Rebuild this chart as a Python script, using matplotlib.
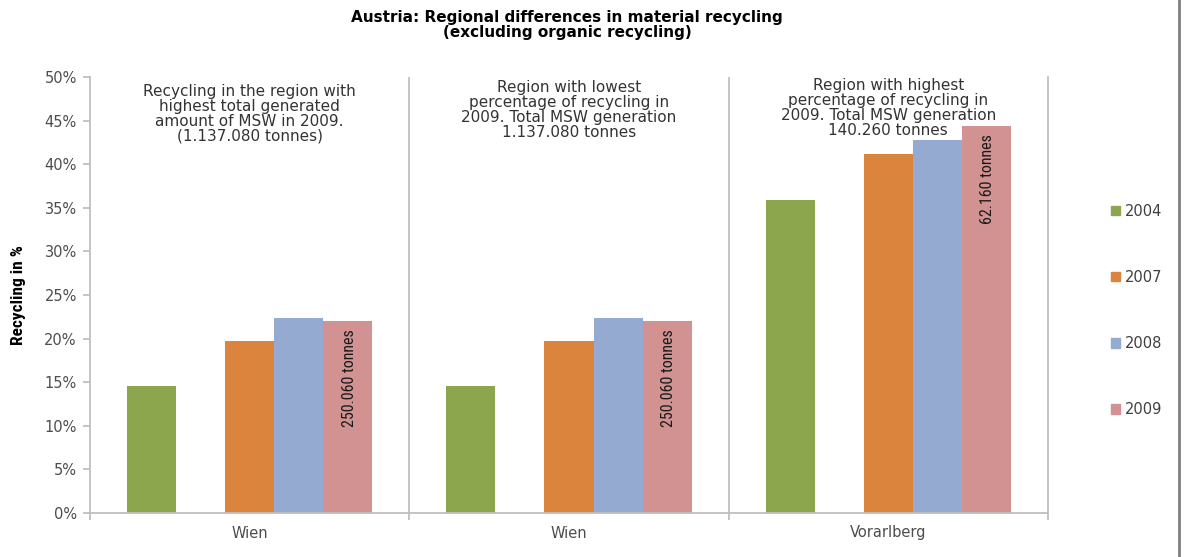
import matplotlib
matplotlib.use("Agg")
import matplotlib.pyplot as plt
from matplotlib.patches import Patch
from matplotlib.lines import Line2D
from matplotlib import font_manager

# Data
regions = ["Wien", "Wien", "Vorarlberg"]
years = ["2004", "2007", "2008", "2009"]
v2004 = [14.6, 14.6, 35.9]
v2007 = [19.7, 19.7, 41.2]
v2008 = [22.4, 22.4, 42.8]
v2009 = [22.0, 22.0, 44.4]
tonnes_2009 = ["250.060 tonnes", "250.060 tonnes", "62.160 tonnes"]
notes = [
    "Recycling in the region with\nhighest total generated\namount of MSW in 2009.\n(1.137.080 tonnes)",
    "Region with lowest\npercentage of recycling in\n2009. Total MSW generation\n1.137.080 tonnes",
    "Region with highest\npercentage of recycling in\n2009. Total MSW generation\n140.260 tonnes",
]
yticks = [0, 5, 10, 15, 20, 25, 30, 35, 40, 45, 50]

colors = ["#8BA64D", "#DB843D", "#94AAD0", "#D29292"]
series = [v2004, v2007, v2008, v2009]
# clustered layout with five slots per category; the second slot stays empty
slots = [0, 2, 3, 4]
n_slots = 5
bar_w = 1.0 / (n_slots + 1.5)
note_tops = [49.15, 49.6, 49.85]

# pick a narrow face for the rotated labels if one is available
installed = {f.name for f in font_manager.fontManager.ttflist}
narrow = [f for f in ["Liberation Sans Narrow", "DejaVu Sans Condensed",
                      "Roboto Condensed", "Open Sans Condensed"] if f in installed]
narrow_family = narrow + ["DejaVu Sans"]
narrow_scale = 1.0 if narrow else 0.86

W, H = 1189, 557
fig = plt.figure(figsize=(W / 100, H / 100), dpi=100)
ax = fig.add_axes([90 / W, (H - 513) / H, (1048 - 90) / W, (513 - 77) / H])

x = list(range(len(regions)))
for vals, slot, col, yr in zip(series, slots, colors, years):
    pos = [xi + (slot - (n_slots - 1) / 2) * bar_w for xi in x]
    bars = ax.bar(pos, vals, width=bar_w, color=col, label=yr, zorder=2)
    if yr == "2009":
        for b, v, lab in zip(bars, vals, tonnes_2009):
            ax.annotate(lab, xy=(b.get_x() + b.get_width() / 2, v),
                        xytext=(1, -6), textcoords="offset points",
                        rotation=90, ha="center", va="top",
                        fontsize=11.5 * narrow_scale, family=narrow_family,
                        color="#1a1a1a", zorder=3)

ax.set_xlim(-0.5, len(regions) - 0.5)
ax.set_ylim(0, 50)
ax.set_yticks(yticks)
ax.set_yticklabels([f"{t}%" for t in yticks])
ax.set_xticks(x)
ax.set_xticklabels(regions)
ax.set_xticks([i - 0.5 for i in range(len(regions) + 1)], minor=True)

grey = "#BFBFBF"
ax.spines["top"].set_visible(False)
for s in ["left", "bottom", "right"]:
    ax.spines[s].set_color(grey)
    ax.spines[s].set_linewidth(1.3)
for xb in [i + 0.5 for i in range(len(regions) - 1)]:
    ax.axvline(xb, color=grey, lw=1.3, zorder=1)

ax.tick_params(axis="y", length=5, width=1.3, color=grey, labelsize=10.5,
               labelcolor="#4d4d4d", pad=4.5)
ax.tick_params(axis="x", which="major", length=0, labelsize=10.5,
               labelcolor="#4d4d4d", pad=9)
ax.tick_params(axis="x", which="minor", length=5, width=1.3, color=grey)

for xi, top, txt in zip(x, note_tops, notes):
    ax.text(xi, top, txt, ha="center", va="top", fontsize=11,
            color="#333333", linespacing=0.98, zorder=4)

ax.set_ylabel("Recycling in %", fontsize=12.5 * narrow_scale, fontweight="bold",
              family=narrow_family, labelpad=13)

fig.suptitle("Austria: Regional differences in material recycling\n(excluding organic recycling)",
             x=567 / W, y=1 - 10 / H, va="top", fontsize=11, fontweight="bold",
             linespacing=1.0)

handles = [Patch(color=c, label=y) for c, y in zip(colors, years)]
fig.legend(handles=handles, loc="center left",
           bbox_to_anchor=(1111 / W, 1 - 310.5 / H), frameon=False,
           fontsize=10.5, labelspacing=3.5, handlelength=0.6, handleheight=0.6,
           handletextpad=0.35, borderpad=0, borderaxespad=0,
           labelcolor="#404040")

fig.add_artist(Line2D([1179 / W, 1179 / W], [0, 1], transform=fig.transFigure,
                      color="#7f7f7f", lw=2))

fig.savefig("out.png", dpi=100)
